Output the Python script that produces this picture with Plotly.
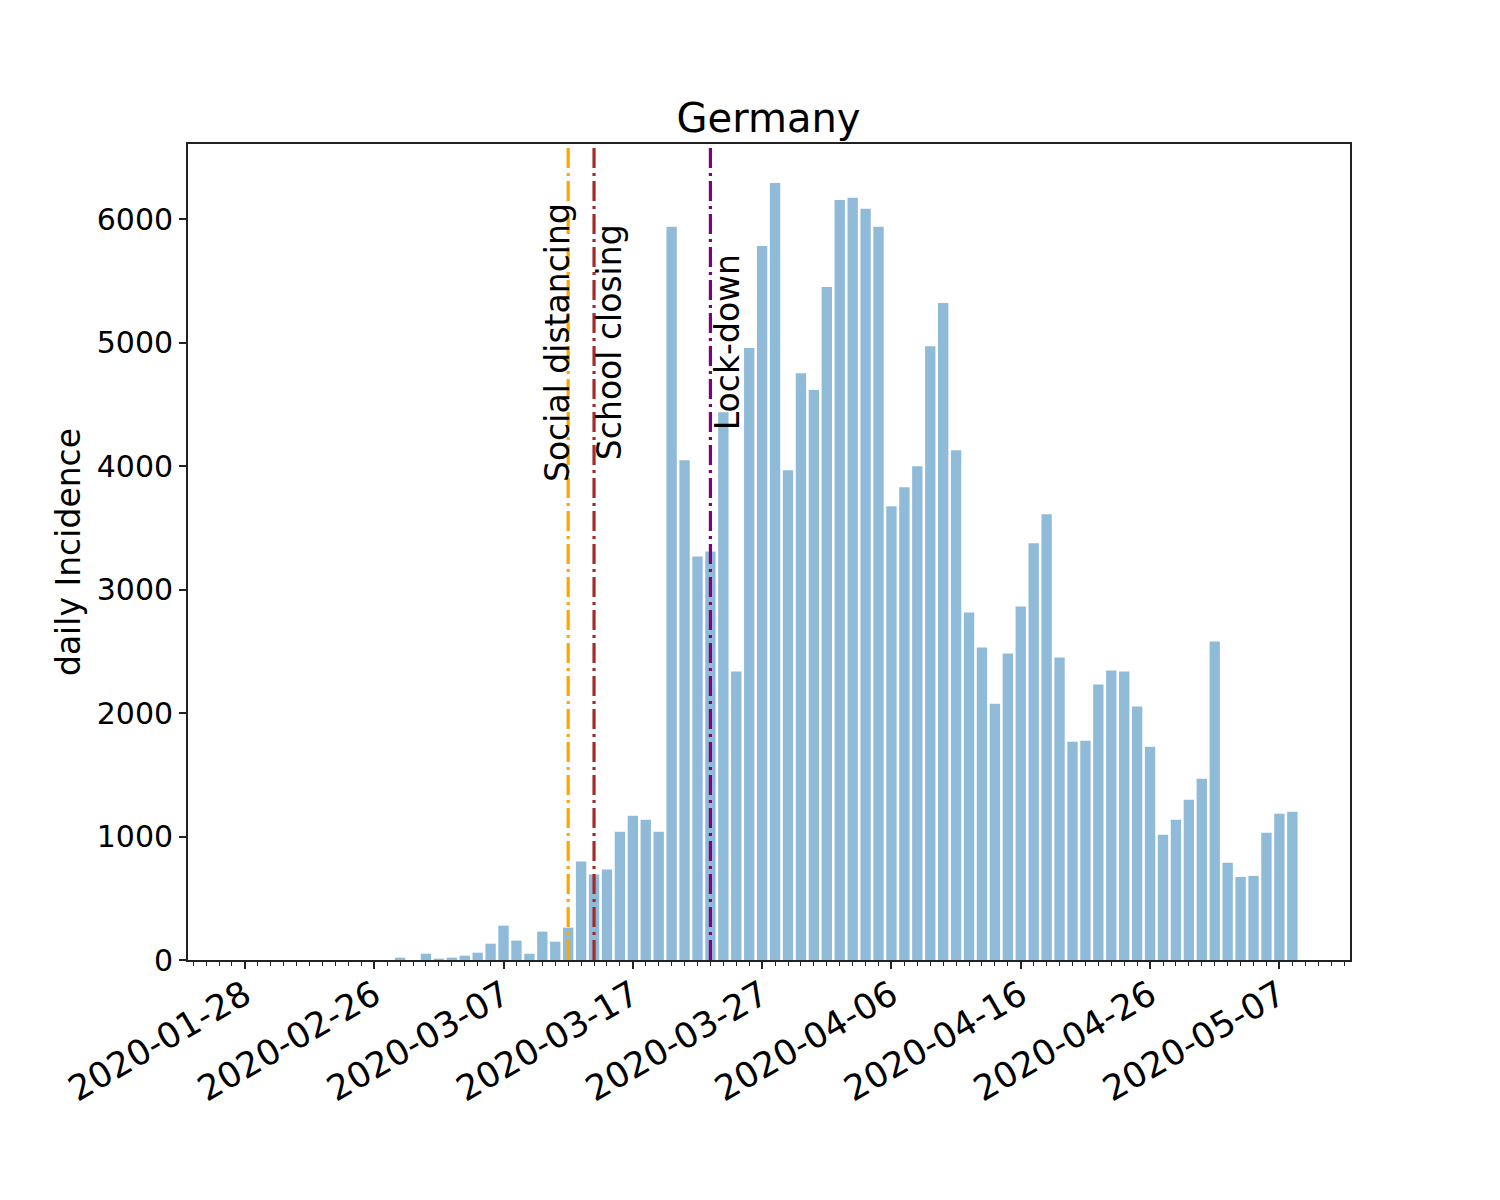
import pandas as pd
import plotly.graph_objects as go

# ---- data ----
dates = list(pd.date_range("2020-02-16", "2020-05-07").strftime("%Y-%m-%d"))
daily_incidence = [
    0, 0, 0, 0, 0, 0, 0, 0, 0, 0,
    0, 0, 19, 0, 51, 11, 19, 35, 59, 132,
    278, 157, 51, 230, 148, 262, 797, 692, 732, 1038,
    1168, 1135, 1038, 5937, 4047, 3268, 3309, 4436, 2336, 4955,
    5782, 6293, 3966, 4752, 4615, 5450, 6155, 6172, 6083, 5937,
    3674, 3828, 3998, 4971, 5320, 4128, 2815, 2530, 2076, 2482,
    2863, 3374, 3609, 2449, 1768, 1776, 2230, 2344, 2336, 2052,
    1727, 1014, 1135, 1298, 1468, 2579, 787, 673, 681, 1030,
    1184, 1200,
]
tick_positions = [0, 10, 20, 30, 40, 50, 60, 70, 80]
tick_labels = ["2020-01-28", "2020-02-26", "2020-03-07", "2020-03-17", "2020-03-27",
               "2020-04-06", "2020-04-16", "2020-04-26", "2020-05-07"]
event_names = ["Social distancing", "School closing", "Lock-down"]
event_days = ["2020-03-12", "2020-03-14", "2020-03-23"]
event_colors = ["orange", "brown", "purple"]
event_label_offsets = [-0.83, 1.2, 1.33]
event_label_y = 5000

x_pos = list(range(len(dates)))

FONT = "DejaVu Sans"

fig = go.Figure()
fig.add_trace(go.Bar(
    x=x_pos, y=daily_incidence, width=0.8,
    marker=dict(color="rgba(31,119,180,0.5)", line=dict(width=0)),
    customdata=dates, hovertemplate="%{customdata}: %{y}<extra></extra>",
))

for name, day, col, off in zip(event_names, event_days, event_colors, event_label_offsets):
    xi = dates.index(day)
    fig.add_shape(type="line", xref="x", yref="paper", x0=xi, x1=xi, y0=0, y1=1,
                  line=dict(color=col, width=3.2, dash="20px,5px,3px,5px"), layer="above")
    fig.add_annotation(x=xi + off, y=event_label_y, xref="x", yref="y", text=name,
                       textangle=-90, showarrow=False, xanchor="center", yanchor="middle",
                       font=dict(family=FONT, size=33, color="black"))

fig.update_layout(
    width=1500, height=1200,
    margin=dict(l=180, r=158, t=136, b=248),
    plot_bgcolor="white", paper_bgcolor="white",
    font=dict(family=FONT, color="black"),
    showlegend=False,
    title=dict(text="Germany", x=0.507, xanchor="center", y=(1200 - 110) / 1200,
               yanchor="middle", yref="container", font=dict(family=FONT, size=40, color="black")),
)

fig.update_xaxes(
    range=[-4.4, 85.46], tickmode="array", tickvals=tick_positions, ticktext=tick_labels,
    tickangle=-30, ticks="outside", ticklen=7, tickwidth=1.6, tickcolor="#222",
    tickfont=dict(family=FONT, size=35, color="black"), ticklabelstandoff=-8,
    showline=True, linecolor="#222", linewidth=1.8, mirror=True,
    showgrid=False, zeroline=False,
    minor=dict(tickmode="linear", tick0=0, dtick=1, ticks="outside", ticklen=4,
               tickwidth=1.4, tickcolor="#222", showgrid=False),
)
fig.update_yaxes(
    range=[0, 6608], tickmode="array", tickvals=[0, 1000, 2000, 3000, 4000, 5000, 6000],
    ticks="outside", ticklen=7, tickwidth=1.6, tickcolor="#222",
    tickfont=dict(family=FONT, size=30, color="black"),
    showline=True, linecolor="#222", linewidth=1.8, mirror=True,
    showgrid=False, zeroline=False,
    title=dict(text="daily Incidence", font=dict(family=FONT, size=33, color="black"), standoff=6),
)

fig.write_html("out.html")
